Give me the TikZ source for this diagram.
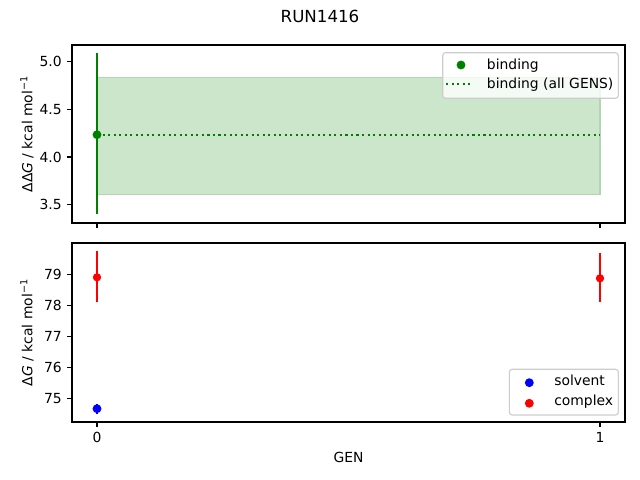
\documentclass[tikz,border=0pt]{standalone}
\usepackage{fontspec}
\setmainfont{DejaVu Sans}
\definecolor{mplgreen}{RGB}{0,128,0}
\definecolor{mplfill}{RGB}{204,230,204}
\definecolor{mpledge}{RGB}{178,214,178}
\begin{document}
\begin{tikzpicture}[x=0.72pt,y=0.72pt,
    spine/.style={line width=0.8pt},
    axtick/.style={line width=0.8pt},
    errbar/.style={line width=1.5pt},
    dotline/.style={line width=1.5pt,dash pattern=on 1.5pt off 2.475pt},
    ticklabel/.style={inner sep=0pt},
    legtext/.style={anchor=base west,inner sep=0pt},
    legendbox/.style={draw=black!20,fill=white,fill opacity=0.8,rounded corners=2pt,line width=0.8pt}]
  \useasboundingbox (0,0) rectangle (640,480);
  \node[font=\fontsize{12}{14}\selectfont] (title) at (320,464) {RUN1416};
  % top panel: binding
  \fill[mplfill] (97,285.7) rectangle (600,402.7);
  \draw[mpledge,line width=0.8pt] (97,285.7) rectangle (600,402.7);
  \draw[mplgreen,dotline] (97,345.3) -- (600,345.3);
  \draw[mplgreen,errbar] (97,265.7) -- (97,426.7);
  \fill[mplgreen] (97,345.3) circle (3.2pt);
  \draw[spine] (72,257) rectangle (625,435);
  \foreach \y/\lab [count=\i] in {275.3/3.5,323/4.0,370.7/4.5,418.4/5.0}
    \draw[axtick] (72,\y) -- ++(-3.5pt,0) node[ticklabel,left=3.5pt] (ytop\i) {\lab};
  \foreach \x in {97,600}
    \draw[axtick] (\x,257) -- ++(0,-3.5pt);
  \node[rotate=90,anchor=south,inner sep=0pt] (ylabtop) at (34,346) {ΔΔ\textit{G} / kcal mol\textsuperscript{−1}};
  \draw[legendbox] (442.7,381.7) rectangle (618.3,427.3);
  \fill[mplgreen] (461,415) circle (3.2pt);
  \node[legtext] (legbind) at (486.7,410.7) {binding};
  \draw[mplgreen,dotline] (446,396.3) -- (473.3,396.3);
  \node[legtext] (legall) at (486.7,391.7) {binding (all GENS)};
  % bottom panel: solvent and complex
  \draw[red,errbar] (97,177.7) -- (97,229.3);
  \fill[red] (97,202.7) circle (3pt);
  \draw[red,errbar] (600,177.7) -- (600,226.7);
  \fill[red] (600,201.7) circle (3pt);
  \draw[blue,errbar] (97,66.3) -- (97,76.3);
  \fill[blue] (97,71.3) circle (3.2pt);
  \draw[spine] (72,58) rectangle (625,237);
  \foreach \y/\lab [count=\i] in {81.7/75,112.7/76,143.7/77,174.7/78,205.7/79}
    \draw[axtick] (72,\y) -- ++(-3.5pt,0) node[ticklabel,left=3.5pt] (ybot\i) {\lab};
  \foreach \x/\lab [count=\i] in {97/0,600/1}
    \draw[axtick] (\x,58) -- ++(0,-3.5pt) node[ticklabel,below=3.5pt] (xbot\i) {\lab};
  \node[rotate=90,anchor=south,inner sep=0pt] (ylabbot) at (34,147.5) {Δ\textit{G} / kcal mol\textsuperscript{−1}};
  \node (xlab) at (348.5,23) {GEN};
  \draw[legendbox] (509.3,65) rectangle (618.3,110.7);
  \fill[blue] (529.3,97.3) circle (3.2pt);
  \node[legtext] (legsolv) at (554,94.3) {solvent};
  \fill[red] (529.3,76.7) circle (3.2pt);
  \node[legtext] (legcomp) at (554,74) {complex};
\end{tikzpicture}
\end{document}
